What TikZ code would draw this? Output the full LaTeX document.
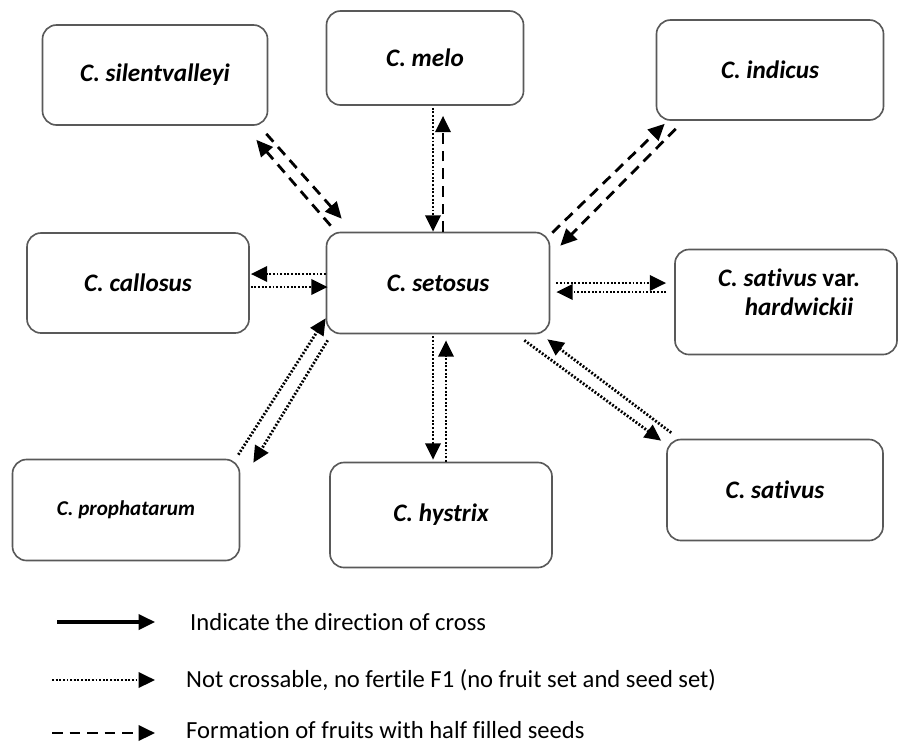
\documentclass[tikz,border=0pt]{standalone}
\usepackage{fontspec}
\setmainfont{Carlito}[Ligatures=NoCommon]
\usetikzlibrary{arrows.meta,calc}

\tikzset{
  box/.style={draw=black!65, line width=1.4pt, rounded corners=12pt, inner sep=0pt,
    font=\bfseries\itshape\fontsize{21.5}{25}\selectfont},
  dotarr/.style={line width=2.4pt, dash pattern=on 1.6pt off 1.5pt, -{Triangle[length=14pt,width=13pt]}},
  dasharr/.style={line width=2.4pt, dash pattern=on 9pt off 6pt, -{Triangle[length=14pt,width=13pt]}},
  solidarr/.style={line width=2.6pt, -{Triangle[length=14pt,width=13pt]}},
  legtxt/.style={anchor=west, inner sep=0pt, font=\fontsize{21}{25}\selectfont},
}

\begin{document}
\begin{tikzpicture}[x=0.03cm, y=-0.03cm]
\useasboundingbox (0,0) rectangle (903,744);

% Species
\node[box, minimum width=6.75cm, minimum height=3cm] (silent) at (155,75) {C. silentvalleyi};
\node[box, minimum width=5.91cm, minimum height=2.82cm] (melo) at (425,58) {C. melo};
\node[box, minimum width=6.81cm, minimum height=3cm] (indicus) at (770,70) {C. indicus};
\node[box, minimum width=6.66cm, minimum height=3cm] (callosus) at (138,283) {C. callosus};
\node[box, minimum width=6.69cm, minimum height=3.03cm] (setosus) at (438,283) {C. setosus};
\node[box, minimum width=6.66cm, minimum height=3.15cm] (hardw) at (786,302) {};
\node[box, minimum width=6.81cm, minimum height=3.03cm, font=\bfseries\itshape\fontsize{18}{22}\selectfont] (proph) at (126,510) {C. prophatarum};
\node[box, minimum width=6.66cm, minimum height=3.15cm] (hystrix) at (441,515) {C. hystrix};
\node[box, minimum width=6.48cm, minimum height=3.03cm] (sativus) at (775,490) {C. sativus};
\node[box, draw=none, align=center] (hardwtxt) at ($(hardw.center)+(3,-10)$)
  {C. sativus \upshape var.\\ \hspace*{0.8em}hardwickii};

% Crosses with C. setosus
\draw[dasharr] ($(setosus.north west)+(5,-6)$) -- ($(silent.south east)+(-12,14)$);
\draw[dasharr] ($(silent.south east)+(-2,8)$) -- ($(setosus.north west)+(16,-13)$);

\draw[dotarr] ($(melo.south)+(8,2)$) -- ($(setosus.north)+(-5,0)$);
\draw[dasharr] ($(setosus.north)+(5,0)$) -- ($(melo.south)+(18,10)$);

\draw[dasharr] ($(setosus.north east)+(2,1)$) -- ($(indicus.south west)+(9,3)$);
\draw[dasharr] ($(indicus.south west)+(20,8)$) -- ($(setosus.north east)+(10,14)$);

\draw[dotarr] ($(setosus.west)+(0,-9)$) -- ($(callosus.east)+(1,-9)$);
\draw[dotarr] ($(callosus.east)+(1,4)$) -- ($(setosus.west)+(2,4)$);

\draw[dotarr] ($(setosus.east)+(6,0)$) -- ($(hardw.west)+(-8,-19)$);
\draw[dotarr] ($(hardw.west)+(-8,-10)$) -- ($(setosus.east)+(6,9)$);

\draw[dotarr] ($(proph.north east)+(-2,-4)$) -- ($(setosus.south west)+(0,-16)$);
\draw[dotarr] ($(setosus.south west)+(2,6)$) -- ($(proph.north east)+(13,4)$);

\draw[dotarr] ($(setosus.south)+(-5,2)$) -- ($(hystrix.north)+(-8,-2)$);
\draw[dotarr] ($(hystrix.north)+(5,0)$) -- ($(setosus.south)+(8,6)$);

\draw[dotarr] ($(sativus.north west)+(5,-6)$) -- ($(setosus.south east)+(-3,5)$);
\draw[dotarr] ($(setosus.south east)+(-26,6)$) -- ($(sativus.north west)+(-5,2)$);

% Legend
\node[legtxt] (leg1) at (190,622) {Indicate the direction of cross};
\node[legtxt] (leg2) at (186,680) {Not crossable, no fertile F1 (no fruit set and seed set)};
\node[legtxt] (leg3) at (186,730) {Formation of fruits with half filled seeds};
\coordinate (s1) at (57,622);
\coordinate (s2) at (52,680);
\coordinate (s3) at (52,733);
\draw[solidarr] (s1) -- ($(leg1.west)+(-35,0)$);
\draw[dotarr] (s2) -- ($(leg2.west)+(-31,0)$);
\draw[dasharr] (s3) -- ($(leg3.west)+(-31,3)$);
\end{tikzpicture}
\end{document}
